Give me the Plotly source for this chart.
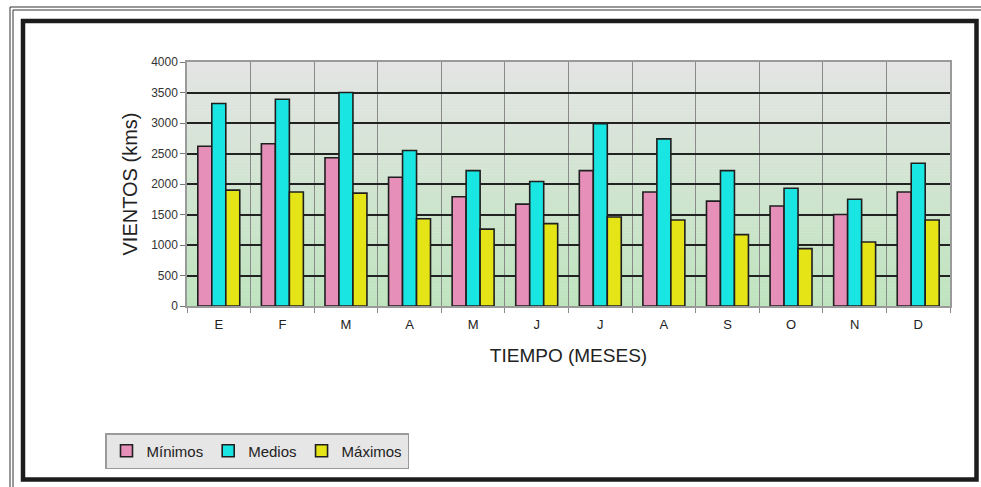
import plotly.graph_objects as go

# Monthly wind run (km) — minimum, mean and maximum
months = ["Ene", "Feb", "Mar", "Abr", "May", "Jun",
          "Jul", "Ago", "Sep", "Oct", "Nov", "Dic"]
month_labels = ["E", "F", "M", "A", "M", "J", "J", "A", "S", "O", "N", "D"]
minimos = [2620, 2660, 2430, 2110, 1790, 1670, 2220, 1870, 1720, 1640, 1500, 1870]
medios = [3320, 3390, 3500, 2550, 2220, 2040, 2990, 2740, 2220, 1930, 1750, 2340]
maximos = [1900, 1870, 1850, 1430, 1260, 1350, 1460, 1410, 1170, 940, 1050, 1410]
y_ticks = [0, 500, 1000, 1500, 2000, 2500, 3000, 3500, 4000]

W, H = 981, 487
L, R, T, B = 187, 31, 62, 181
PW, PH = W - L - R, H - T - B

def px(x):
    return (x - L) / PW

def py(y):
    return (H - B - y) / PH

FONT = "Liberation Sans, Arial, sans-serif"
EDGE = "#1f1f1f"

fig = go.Figure()
for name, vals, col in [("Mínimos", minimos, "#e68fb9"),
                        ("Medios", medios, "#19e6e3"),
                        ("Máximos", maximos, "#e4e416")]:
    fig.add_trace(go.Bar(x=months, y=vals, name=name,
                         marker=dict(color=col, line=dict(color=EDGE, width=1.6))))

shapes = []
# vertical grey-to-green background gradient behind the gridlines
top_c, bot_c = (228, 228, 228), (190, 228, 190)
n = 80
for i in range(n):
    t = (i + 0.5) / n
    c = tuple(round(bot_c[k] + (top_c[k] - bot_c[k]) * t) for k in range(3))
    shapes.append(dict(type="rect", xref="paper", yref="paper",
                       x0=0, x1=1, y0=i / n, y1=(i + 1) / n + 0.002,
                       fillcolor="rgb(%d,%d,%d)" % c, line=dict(width=0),
                       layer="below"))

# outer double frame
for off in (10, 13):
    shapes.append(dict(type="rect", xref="paper", yref="paper",
                       x0=px(off), y0=py(off - 3), x1=px(W + 20), y1=py(H + 20),
                       line=dict(color="#333333", width=1), layer="above"))
# thick inner frame
shapes.append(dict(type="rect", xref="paper", yref="paper",
                   x0=px(23), y0=py(21), x1=px(976.5), y1=py(479.5),
                   line=dict(color="#1c1c1c", width=4.5), layer="above"))

fig.update_layout(
    width=W, height=H,
    margin=dict(l=L, r=R, t=T, b=B, pad=0),
    paper_bgcolor="white", plot_bgcolor="rgba(0,0,0,0)",
    barmode="group", bargap=0.34, bargroupgap=0,
    font=dict(family=FONT, color="#222222"),
    shapes=shapes,
    showlegend=True,
    legend=dict(orientation="h", x=px(105), y=py(433),
                xanchor="left", yanchor="top",
                bgcolor="#e6e6e6", bordercolor="#9a9a9a", borderwidth=1.5,
                font=dict(size=15, family=FONT, color="#222222"),
                itemwidth=30, tracegroupgap=0),
)

fig.update_xaxes(
    type="category", categoryorder="array", categoryarray=months,
    tickvals=months, ticktext=month_labels, tickson="boundaries",
    showgrid=True, gridcolor="#8a8a8a", gridwidth=1.2,
    ticks="outside", ticklen=5, tickcolor="#8a8a8a", ticklabelstandoff=6,
    showline=True, linecolor="#9a9a9a", linewidth=1.5, mirror=True,
    tickfont=dict(size=13, color="#222222"),
    title=dict(text="TIEMPO (MESES)", font=dict(size=19, color="#222222"),
               standoff=17),
)

fig.update_yaxes(
    range=[0, 4000], tickvals=y_ticks, tickformat="d",
    showgrid=True, gridcolor="#222222", gridwidth=1.8, zeroline=False,
    ticks="outside", ticklen=5, tickcolor="#777777",
    showline=True, linecolor="#9a9a9a", linewidth=1.5, mirror=True,
    tickfont=dict(size=12, color="#333333"),
    title=dict(text="VIENTOS (kms)", font=dict(size=20, color="#222222"),
               standoff=8),
)

fig.write_html("out.html")
